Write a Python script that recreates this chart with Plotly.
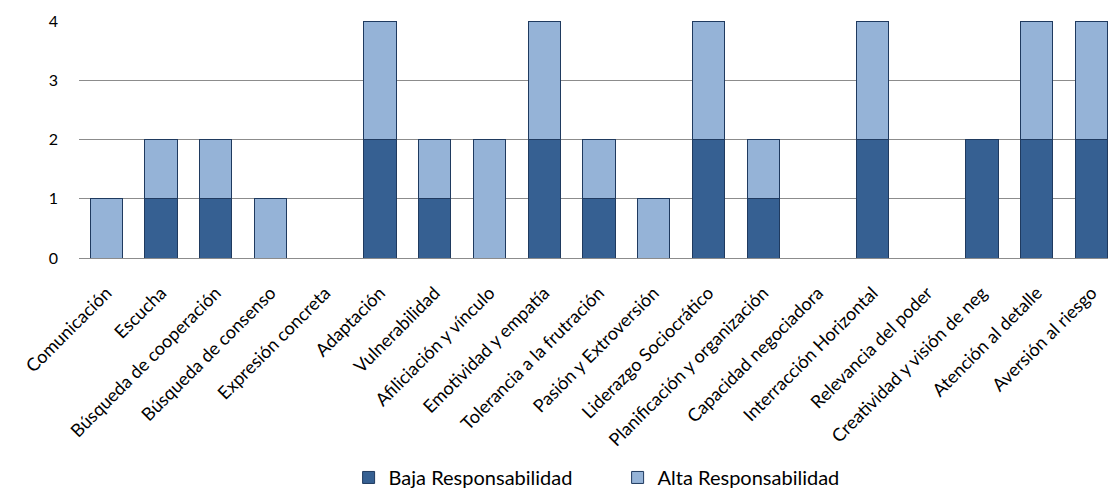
import plotly.graph_objects as go

categorias = [
    "Comunicación", "Escucha", "Búsqueda de cooperación", "Búsqueda de consenso",
    "Expresión concreta", "Adaptación", "Vulnerabilidad", "Afiliciación y vínculo",
    "Emotividad y empatía", "Tolerancia a la frutración", "Pasión y Extroversión",
    "Liderazgo Sociocrático", "Planificación y organización", "Capacidad negociadora",
    "Interracción Horizontal", "Relevancia del poder", "Creatividad y visión de neg",
    "Atención al detalle", "Aversión al riesgo",
]
baja_responsabilidad = [0, 1, 1, 0, 0, 2, 1, 0, 2, 1, 0, 2, 1, 0, 2, 0, 2, 2, 2]
alta_responsabilidad = [1, 1, 1, 1, 0, 2, 1, 2, 2, 1, 1, 2, 1, 0, 2, 0, 0, 2, 2]
ticks_y = [0, 1, 2, 3, 4]

FONT = "Lato"
borde = dict(color="#1F3A5F", width=1)

fig = go.Figure()
fig.add_trace(go.Bar(
    name="Baja Responsabilidad", x=categorias, y=baja_responsabilidad,
    marker=dict(color="#366092", line=borde),
))
fig.add_trace(go.Bar(
    name="Alta Responsabilidad", x=categorias, y=alta_responsabilidad,
    marker=dict(color="#95B3D7", line=borde),
))

fig.update_layout(
    barmode="stack",
    bargap=0.41,
    width=1108, height=497,
    margin=dict(l=79, r=0, t=21, b=234),
    paper_bgcolor="white", plot_bgcolor="white",
    font=dict(family=FONT, size=18, color="#000000"),
    showlegend=True,
    legend=dict(
        orientation="h", x=0.262, xanchor="left", y=-0.926, yanchor="middle",
        entrywidth=224, entrywidthmode="pixels",
        font=dict(family=FONT, size=20), itemwidth=30,
        traceorder="normal",
    ),
)
fig.update_xaxes(
    type="category", range=[-0.5, 18.3], tickangle=-45,
    showgrid=False, showline=False, ticks="", zeroline=False,
    ticklabelstandoff=20,
    tickfont=dict(family=FONT, size=18),
)
fig.update_yaxes(
    range=[0, 4], tickvals=ticks_y, showgrid=True, gridcolor="#8C8C8C", gridwidth=1,
    zeroline=True, zerolinecolor="#8C8C8C", zerolinewidth=1,
    showline=False, ticks="", ticklabelstandoff=20,
    tickfont=dict(family=FONT, size=16),
)

fig.write_html("out.html")
